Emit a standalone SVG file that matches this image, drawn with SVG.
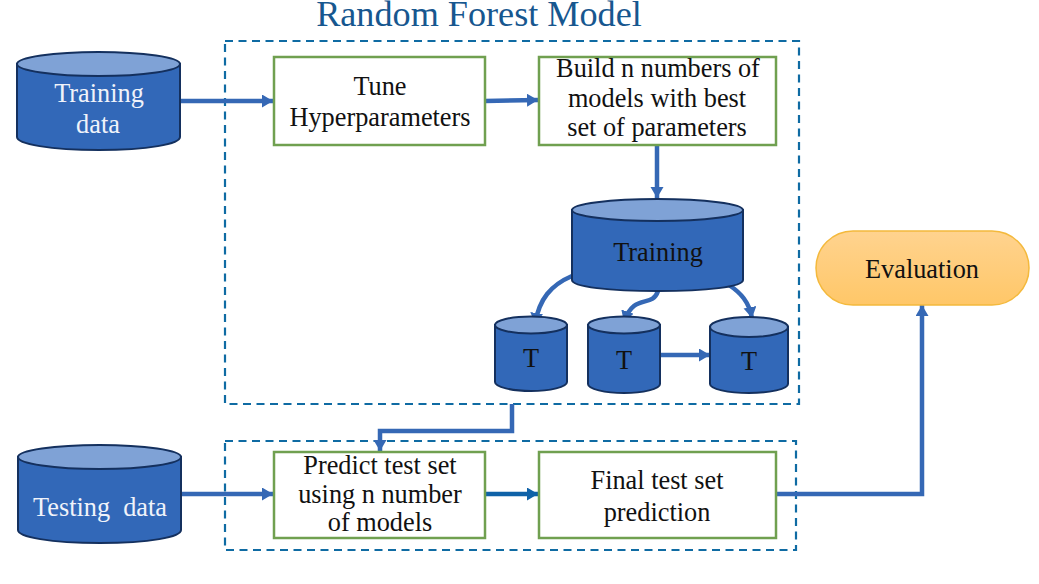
<svg xmlns="http://www.w3.org/2000/svg" width="1039" height="584" viewBox="0 0 1039 584">
<defs>
<linearGradient id="eval" x1="0" y1="0" x2="0" y2="1"><stop offset="0" stop-color="#ffd38f"/><stop offset="1" stop-color="#ffc768"/></linearGradient>
<marker id="ah" markerUnits="userSpaceOnUse" markerWidth="13" markerHeight="14" refX="11" refY="6.500" orient="auto"><path d="M0 0L11 6.500L0 13Z" fill="#3568b5"/></marker>
<marker id="ah2" markerUnits="userSpaceOnUse" markerWidth="13" markerHeight="14" refX="11" refY="6.500" orient="auto"><path d="M0 0L11 6.500L0 13Z" fill="#0f62a8"/></marker>
</defs>
<style>
text{font-family:"Liberation Serif","Times New Roman",serif;font-size:26.300px;fill:#111;text-anchor:middle;white-space:pre}
.w{fill:#f0f3fa}
.dash{fill:none;stroke:#0f6ba3;stroke-width:2.200;stroke-dasharray:8 5.500}
.box{fill:#fff;stroke:#70a050;stroke-width:2.500}
.body{fill:#3268b8;stroke:#14305e;stroke-width:2}
.top{fill:#7fa2d6;stroke:#14305e;stroke-width:2}
.c{fill:none;stroke:#3568b5;stroke-width:4.500;marker-end:url(#ah)}
</style>
<rect width="1039" height="584" fill="#fff"/>
<text x="479" y="26" style="font-size:36.200px;fill:#17578f">Random Forest Model</text>
<rect class="dash" x="225" y="41" width="574" height="363"/>
<rect class="dash" x="225" y="441" width="571" height="109"/>
<g id="connectors">
<path class="c" d="M181 101H273"/>
<path class="c" d="M485 101L538 100"/>
<path class="c" d="M657 145V198"/>
<path class="c" d="M572 276C551 285 539 299 535 324"/>
<path class="c" d="M658 291C652 309 634 292 624 322"/>
<path class="c" d="M729 285C741 293 749 302 752 318"/>
<path class="c" d="M660 355H710"/>
<path class="c" d="M512 404V431H380V451"/>
<path class="c" d="M181 494H273"/>
<path d="M485 494H538" style="fill:none;stroke:#0f62a8;stroke-width:4.500;marker-end:url(#ah2)"/>
<path class="c" d="M776 494H922V305"/>
</g>
<g id="training-data">
<path class="body" d="M17 64V137C17 144 50 150 99 150S180 144 180 137V64Z"/>
<ellipse class="top" cx="98.500" cy="64" rx="81.500" ry="12"/>
<text class="w" x="99" y="102">Training</text><text class="w" x="98" y="133">data</text>
</g>
<g id="testing-data">
<path class="body" d="M18 457V530C18 537 50 543 100 543S181 537 181 530V457Z"/>
<ellipse class="top" cx="99.500" cy="457" rx="81.500" ry="12"/>
<text class="w" x="100" y="516">Testing  data</text>
</g>
<g id="tune">
<rect class="box" x="274" y="57" width="211" height="88"/>
<text x="380" y="95">Tune</text><text x="380" y="126">Hyperparameters</text>
</g>
<g id="build">
<rect class="box" x="539" y="57" width="237" height="88"/>
<text x="658" y="77">Build n numbers of</text><text x="657" y="107">models with best</text><text x="657" y="136">set of parameters</text>
</g>
<g id="training">
<path class="body" d="M572 210V280C572 287 610 291 658 291S743 287 743 280V210Z"/>
<ellipse class="top" cx="657.500" cy="210" rx="85.500" ry="11"/>
<text x="658" y="261">Training</text>
</g>
<g id="t1">
<path class="body" d="M495 325V382C495 387 512 391 531 391S567 387 567 382V325Z"/>
<ellipse class="top" cx="531" cy="325" rx="36" ry="8.500"/>
<text x="531" y="367">T</text>
</g>
<g id="t2">
<path class="body" d="M588 325V384C588 389 605 393 624 393S660 389 660 384V325Z"/>
<ellipse class="top" cx="624" cy="325" rx="36" ry="8.500"/>
<text x="624" y="369">T</text>
</g>
<g id="t3">
<path class="body" d="M710 327V384C710 389 728 393 749 393S788 389 788 384V327Z"/>
<ellipse class="top" cx="749" cy="327" rx="39" ry="10"/>
<text x="749" y="370">T</text>
</g>
<g id="evaluation">
<rect x="816" y="231" width="213" height="74" rx="37" fill="url(#eval)" stroke="#f4b93c" stroke-width="1.500"/>
<text x="922" y="278">Evaluation</text>
</g>
<g id="predict">
<rect class="box" x="274" y="452" width="211" height="86"/>
<text x="380" y="474">Predict test set</text><text x="380" y="503">using n number</text><text x="380" y="531">of models</text>
</g>
<g id="final">
<rect class="box" x="539" y="452" width="237" height="86"/>
<text x="657" y="489">Final test set</text><text x="657" y="521">prediction</text>
</g>
</svg>
